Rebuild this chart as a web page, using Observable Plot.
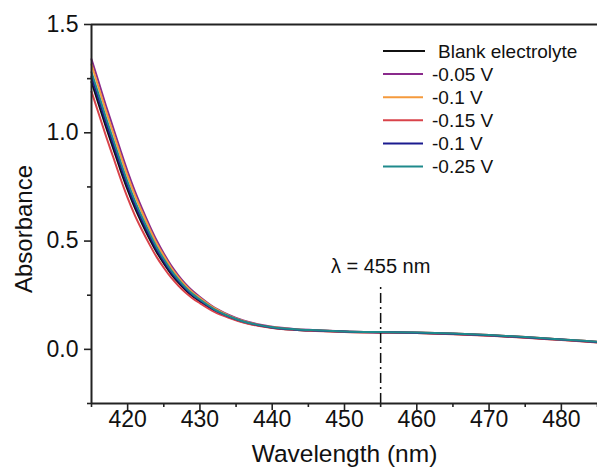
<!DOCTYPE html>
<html>
<head>
<meta charset="utf-8">
<script src="https://cdn.jsdelivr.net/npm/d3@7"></script>
<script src="https://cdn.jsdelivr.net/npm/@observablehq/plot@0.6"></script>
<style>
  html, body { margin: 0; padding: 0; background: #fff; }
  #chart { position: relative; width: 597px; height: 469px; }
</style>
</head>
<body>
<div id="chart"></div>
<script>
// ---- data ----
const wavelengths = [415,416,417,418,419,420,421,422,423,424,425,426,427,428,429,430,432,434,436,438,440,443,446,450,455,460,465,470,475,480,485];
const blank = [1.235,1.131,1.027,0.928,0.829,0.736,0.653,0.58,0.512,0.45,0.397,0.349,0.309,0.274,0.245,0.221,0.179,0.149,0.126,0.111,0.1,0.091,0.086,0.081,0.078,0.076,0.071,0.064,0.055,0.044,0.033];
const v005  = [1.34,1.233,1.125,1.023,0.92,0.821,0.731,0.65,0.574,0.504,0.443,0.388,0.342,0.302,0.269,0.242,0.193,0.159,0.133,0.116,0.104,0.094,0.089,0.083,0.08,0.078,0.073,0.066,0.057,0.046,0.035];
const v01a  = [1.315,1.208,1.101,1.0,0.898,0.8,0.712,0.633,0.559,0.49,0.432,0.378,0.334,0.295,0.263,0.237,0.19,0.156,0.131,0.114,0.103,0.093,0.088,0.083,0.08,0.078,0.073,0.066,0.057,0.046,0.035];
const v015  = [1.19,1.088,0.985,0.888,0.79,0.699,0.619,0.55,0.486,0.427,0.377,0.332,0.295,0.262,0.235,0.213,0.173,0.146,0.124,0.109,0.099,0.09,0.085,0.08,0.077,0.075,0.07,0.063,0.054,0.043,0.032];
const v01b  = [1.258,1.153,1.048,0.948,0.849,0.754,0.669,0.595,0.526,0.461,0.407,0.357,0.316,0.28,0.25,0.226,0.182,0.151,0.128,0.112,0.101,0.092,0.087,0.082,0.079,0.077,0.072,0.065,0.056,0.045,0.034];
const v025  = [1.28,1.175,1.069,0.969,0.868,0.772,0.686,0.61,0.539,0.473,0.417,0.366,0.323,0.286,0.255,0.23,0.185,0.153,0.129,0.113,0.102,0.093,0.088,0.083,0.08,0.078,0.073,0.066,0.057,0.046,0.035];

const seriesNames  = ["Blank electrolyte","-0.05 V","-0.1 V","-0.15 V","-0.1 V","-0.25 V"];
const seriesValues = [blank, v005, v01a, v015, v01b, v025];
const seriesColors = ["#111111","#8a2a8c","#f59a3c","#d9434a","#1b1b8f","#1f8a8c"];
const drawOrder    = [0,1,2,3,4,5];

const xMajor = [420,430,440,450,460,470,480];
const xMinor = [415,425,435,445,455,465,475,485];
const yMajor = [0,0.5,1.0,1.5];
const yMinor = [-0.25,0.25,0.75,1.25];
const markerWavelength = 455;
const markerLabel = "λ = 455 nm";
const markerTop = 0.295;
const markerLabelY = 0.38;
const xLabel = "Wavelength (nm)";
const yLabel = "Absorbance";

// ---- build ----
const rows = seriesValues.map(vals => wavelengths.map((w, i) => ({w, a: vals[i]})));
const font = "'Liberation Sans', Arial, Helvetica, sans-serif";
const axisColor = "#222";

const lineMarks = drawOrder.map(k => Plot.line(rows[k], {
  x: "w", y: "a", stroke: seriesColors[k], strokeWidth: 2, curve: "monotone-x"
}));

const chart = Plot.plot({
  width: 597, height: 469,
  marginLeft: 91, marginRight: 0, marginTop: 24, marginBottom: 66,
  style: {fontFamily: font, background: "#fff", color: axisColor, overflow: "visible"},
  x: {domain: [415, 485]},
  y: {domain: [-0.25, 1.5]},
  marks: [
    ...lineMarks,
    Plot.ruleX([markerWavelength], {y1: -0.25, y2: markerTop, stroke: "#111", strokeWidth: 1.5, strokeDasharray: "10,4,2,4"}),
    Plot.text([markerLabel], {x: markerWavelength, y: markerLabelY, text: d => d, fontSize: 20, fill: "#111", textAnchor: "middle", lineAnchor: "middle"}),
    Plot.axisX(xMajor, {tickSize: 7, tickPadding: 0, tickFormat: d => String(d), fontSize: 23, stroke: axisColor, strokeWidth: 1.6, fill: "#111", label: null}),
    Plot.axisX(xMinor, {tickSize: 4, tickFormat: () => "", stroke: axisColor, strokeWidth: 1.6, label: null}),
    Plot.axisY(yMajor, {tickSize: 7, tickPadding: 6, tickFormat: d3.format(".1f"), fontSize: 23, stroke: axisColor, strokeWidth: 1.6, fill: "#111", label: null}),
    Plot.axisY(yMinor, {tickSize: 4, tickFormat: () => "", stroke: axisColor, strokeWidth: 1.6, label: null}),
    Plot.ruleX([415], {stroke: axisColor, strokeWidth: 2}),
    Plot.ruleY([-0.25], {stroke: axisColor, strokeWidth: 2}),
    Plot.ruleY([1.5], {stroke: axisColor, strokeWidth: 2}),
    Plot.text([xLabel], {frameAnchor: "bottom", dy: 51, text: d => d, fontSize: 24.5, fill: "#111", textAnchor: "middle", lineAnchor: "middle"}),
    Plot.text([yLabel], {frameAnchor: "left", dx: -67, dy: 15, rotate: -90, text: d => d, fontSize: 24, fill: "#111", textAnchor: "middle", lineAnchor: "middle"})
  ]
});

document.getElementById("chart").appendChild(chart);

// ---- legend ----
const svg = d3.select(chart);
const lg = svg.append("g").attr("font-family", font).attr("font-size", 19).attr("fill", "#111").attr("text-anchor", "start");
seriesNames.forEach((name, i) => {
  const cy = 51 + i * 23.1;
  lg.append("line").attr("x1", 383).attr("x2", i === 0 ? 425 : 423).attr("y1", cy).attr("y2", cy)
    .attr("stroke", seriesColors[i]).attr("stroke-width", 2);
  lg.append("text").attr("x", i === 0 ? 438 : 432).attr("y", cy).attr("dy", "0.35em").text(name);
});
</script>
</body>
</html>
